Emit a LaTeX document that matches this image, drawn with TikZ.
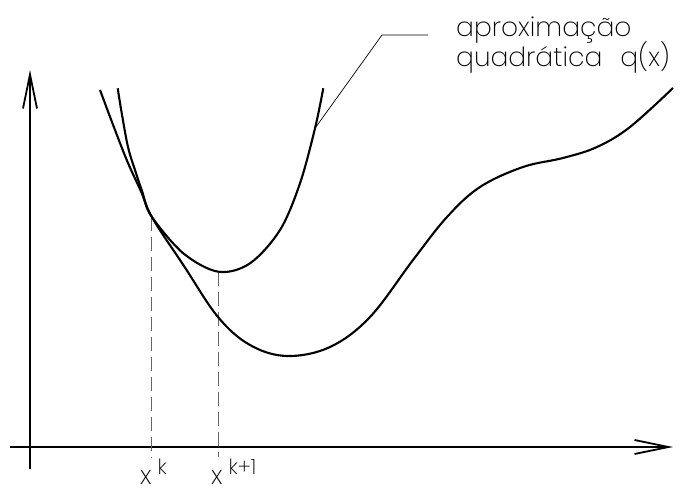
\documentclass[tikz,border=0pt]{standalone}
\usepackage{fontspec}
\newfontfamily\cadfont{Poppins ExtraLight}
\usetikzlibrary{arrows.meta}
\tikzset{
  axisline/.style={line width=1.8pt, -{Straight Barb[length=34pt,width=14pt]}},
  curveline/.style={line width=2.1pt, line join=round},
  guide/.style={line width=0.9pt, draw=black!60, dash pattern=on 14pt off 6pt},
  leader/.style={line width=0.7pt},
  lbl/.style={inner sep=0pt, anchor=base west, font=\cadfont\fontsize{26.5pt}{30pt}\selectfont},
  xlbl/.style={inner sep=0pt, anchor=base west, font=\cadfont\fontsize{26pt}{26pt}\selectfont},
}
\newcommand{\supk}[1]{\raisebox{10pt}{\fontsize{21pt}{21pt}\selectfont #1}}
\begin{document}
\begin{tikzpicture}[x=1pt,y=-1pt]
\useasboundingbox (0,0) rectangle (693,489);
% axes
\coordinate (ox) at (10,447);
\coordinate (xe) at (673,447);
\coordinate (oy) at (30,469);
\coordinate (ye) at (30,70);
\draw[axisline] (ox) -- (xe);
\draw[axisline] (oy) -- (ye);
% key points
\coordinate (tk) at (151.7,216.7);
\coordinate (tkb) at (151.7,457);
\coordinate (vx) at (218.3,271.7);
\coordinate (vxb) at (218.3,457);
\coordinate (qL) at (315,128.3);
\coordinate (lk) at (382,35);
\coordinate (le) at (428,35);
% guides
\draw[guide] (tk) -- (tkb);
\draw[guide] (vx) -- (vxb);
% quadratic approximation
\draw[curveline] plot[smooth, tension=0.55] coordinates {
  (100,90) (115,130) (128,163) (141.7,193) (151.7,216.7) (183.3,253.3)
  (218.3,271.7) (250,263.3) (280,230) (300,183.3) (315,128.3) (323.3,88.3)};
% function
\draw[curveline] plot[smooth, tension=0.6] coordinates {
  (117.7,88.3) (121.7,113) (128,147) (135,170) (141.7,190) (151.7,216.7)
  (184,266) (218,317) (250,345) (287,356) (330,347) (370,317) (413,260)
  (447,217) (480,187) (523,167) (563,158) (597,147) (630,127) (673,88)};
% leader
\draw[leader] (qL) -- (lk) -- (le);
% labels
\node[lbl] (t1) at (456,37) {aproximação};
\node[lbl] (t2) at (456,67) {quadrática\hspace{18pt}q(x)};
\node[xlbl] (x1) at (140,484) {x\hspace{6pt}\supk{k}};
\node[xlbl] (x2) at (211,484) {x\hspace{6pt}\supk{k+1}};
\end{tikzpicture}
\end{document}
